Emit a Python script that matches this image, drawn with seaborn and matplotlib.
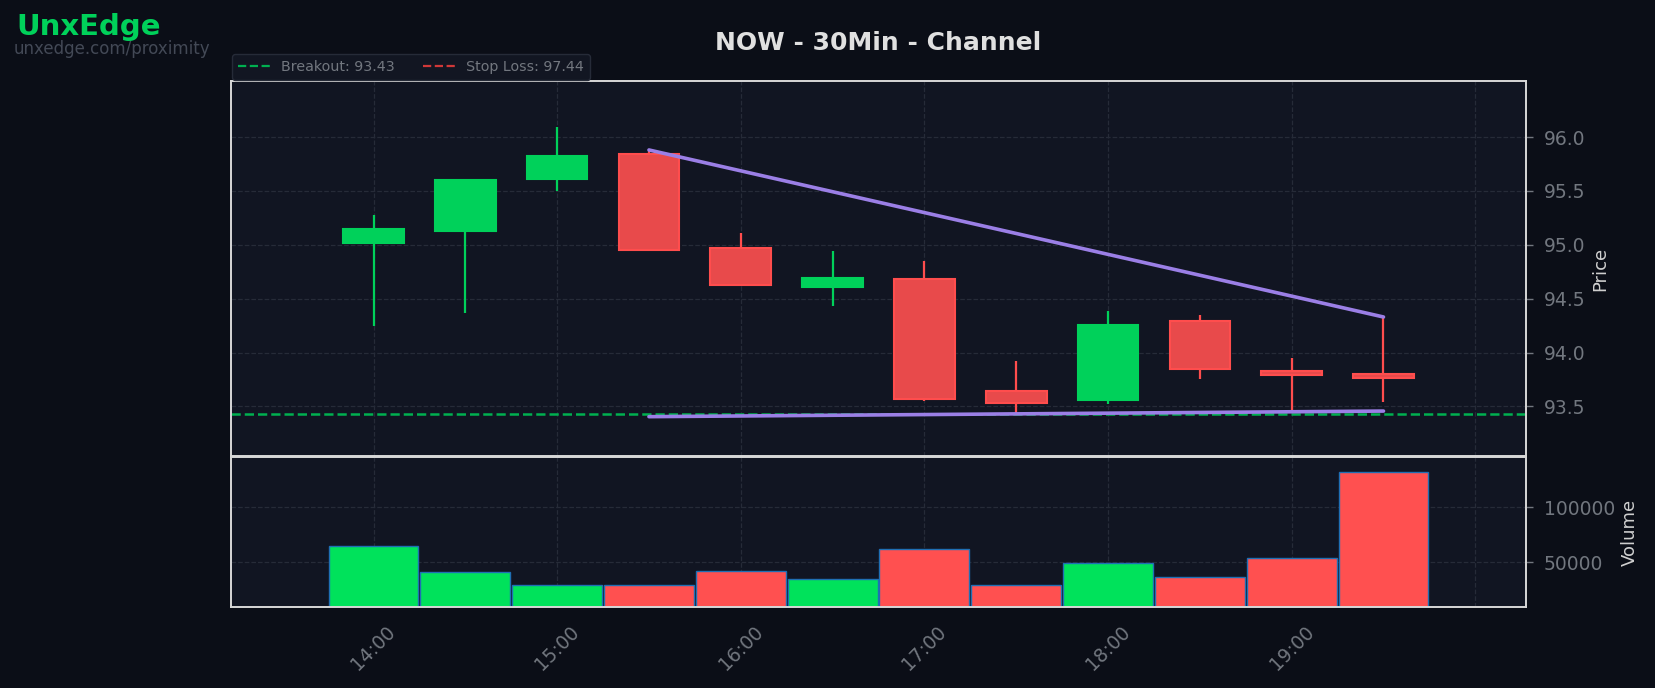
import numpy as np
import pandas as pd
import matplotlib
matplotlib.use("Agg")
import matplotlib.pyplot as plt
import seaborn as sns
from matplotlib.lines import Line2D

# ---------------- data ----------------
times = [14.0, 14.5, 15.0, 15.5, 16.0, 16.5, 17.0, 17.5, 18.0, 18.5, 19.0, 19.5]
opens = [95.02, 95.13, 95.61, 95.84, 94.97, 94.61, 94.68, 93.64, 93.56, 94.29, 93.83, 93.80]
highs = [95.28, 95.61, 96.09, 95.87, 95.11, 94.94, 94.85, 93.92, 94.39, 94.35, 93.95, 94.33]
lows = [94.25, 94.37, 95.50, 94.95, 94.62, 94.43, 93.55, 93.44, 93.52, 93.75, 93.46, 93.54]
closes = [95.15, 95.60, 95.82, 94.95, 94.63, 94.69, 93.57, 93.53, 94.26, 93.85, 93.79, 93.76]
volumes = [64800, 41200, 29100, 29400, 42100, 34800, 62100, 29400, 49400, 36700, 53900, 132100]
upper_line_x = [15.5, 19.5]
upper_line_y = [95.88, 94.33]
lower_line_x = [15.5, 19.5]
lower_line_y = [93.405, 93.457]
breakout = 93.43
stop_loss = 97.44
xtick_pos = [14, 15, 16, 17, 18, 19, 20]
xtick_labels = ["14:00", "15:00", "16:00", "17:00", "18:00", "19:00", ""]
price_ticks = [93.5, 94.0, 94.5, 95.0, 95.5, 96.0]
vol_ticks = [50000, 100000]
title = "NOW - 30Min - Channel"

# ---------------- style ----------------
FIG_BG = "#0b0e17"
AX_BG = "#111522"
GREEN_C = "#00d15a"
RED_C = "#e84a4b"
RED_EDGE = "#ff4d4d"
GREEN_V = "#00e25b"
RED_V = "#ff5050"
GRID = "#262b38"
TICK = "#72777f"
SPINE = "#d8d8d8"
PURPLE = "#9b7fe6"

sns.set_theme(style="dark")
plt.rcParams["font.family"] = ["DejaVu Sans"]

fig = plt.figure(figsize=(16.55, 6.88), dpi=100, facecolor=FIG_BG)
L, R = 231 / 1655, 1526 / 1655
ax = fig.add_axes([L, 1 - 456 / 688, R - L, (456 - 81) / 688])
axv = fig.add_axes([L, 1 - 607 / 688, R - L, (607 - 457) / 688], sharex=ax)

df = pd.DataFrame({"t": times, "o": opens, "h": highs, "l": lows, "c": closes, "v": volumes})
df["dir"] = np.where(df["c"] >= df["o"], "up", "down")

for a in (ax, axv):
    a.set_facecolor(AX_BG)
    for s in a.spines.values():
        s.set_color(SPINE)
        s.set_linewidth(1.4)
    a.grid(True, color=GRID, linestyle="--", linewidth=0.9)
    a.yaxis.tick_right()
    a.yaxis.set_label_position("right")
    a.tick_params(colors=TICK, labelsize=13.5, length=5, width=1, pad=8)

# candles
body_w = 0.33
for _, r in df.iterrows():
    up = r["dir"] == "up"
    col = GREEN_C if up else RED_C
    ecol = GREEN_C if up else RED_EDGE
    ax.vlines(r["t"], r["l"], r["h"], color=ecol, linewidth=1.6, zorder=3)
    lo = min(r["o"], r["c"])
    hi = max(r["o"], r["c"])
    ax.bar(r["t"], hi - lo, bottom=lo, width=body_w, color=col, edgecolor=ecol,
           linewidth=1.5, zorder=4)

# breakout line and trendlines
ax.axhline(breakout, color="#00b050", linestyle="--", linewidth=1.8, zorder=2)
sns.lineplot(x=upper_line_x, y=upper_line_y, ax=ax, color=PURPLE, linewidth=2.6, zorder=5)
sns.lineplot(x=lower_line_x, y=lower_line_y, ax=ax, color=PURPLE, linewidth=2.6, zorder=5)

ax.set_xlim(13.224, 20.276)
ax.set_ylim(93.04, 96.52)
ax.set_yticks(price_ticks)
ax.set_yticklabels([f"{p:.1f}" for p in price_ticks])
ax.set_ylabel("Price", color="#d0d0d0", fontsize=13, labelpad=4)
ax.set_xlabel("")
ax.tick_params(axis="x", labelbottom=False, length=0)

# legend
handles = [
    Line2D([0], [0], color="#00b050", linestyle="--", linewidth=1.6),
    Line2D([0], [0], color="#d03838", linestyle="--", linewidth=1.6),
]
leg = ax.legend(handles, [f"Breakout: {breakout:.2f}", f"Stop Loss: {stop_loss:.2f}"],
                loc="lower left", bbox_to_anchor=(0, 1.0), borderaxespad=0.1, ncol=2,
                fontsize=10.3, frameon=True, facecolor="#121622", edgecolor="#262b38",
                labelcolor=TICK, columnspacing=2.0, handlelength=2.2)
leg.get_frame().set_alpha(1.0)

# volume
sns.barplot(data=df, x="t", y="v", hue="dir", palette={"up": GREEN_V, "down": RED_V},
            native_scale=True, width=0.98, dodge=False, legend=False, ax=axv,
            edgecolor="#1f6fb4", linewidth=1.0, saturation=1)
axv.set_xlim(13.224, 20.276)
axv.set_ylim(9400, 145500)
axv.set_yticks(vol_ticks)
axv.set_yticklabels([str(v) for v in vol_ticks])
axv.set_ylabel("Volume", color="#d0d0d0", fontsize=13, labelpad=4)
axv.set_xlabel("")
axv.set_xticks(xtick_pos)
axv.set_xticklabels(xtick_labels, rotation=45, ha="center")
axv.tick_params(axis="x", pad=6, labelsize=13.5)

# titles / branding
fig.text((L + R) / 2, 1 - 43 / 688, title, ha="center", va="center",
         fontsize=18, fontweight="bold", color="#e0e0e0")
fig.text(16 / 1655, 1 - 27 / 688, "UnxEdge", ha="left", va="center",
         fontsize=21, fontweight="bold", color="#00d15a")
fig.text(14 / 1655, 1 - 49 / 688, "unxedge.com/proximity", ha="left", va="center",
         fontsize=12, color="#434956")

fig.savefig("out.png", dpi=100, facecolor=FIG_BG)
